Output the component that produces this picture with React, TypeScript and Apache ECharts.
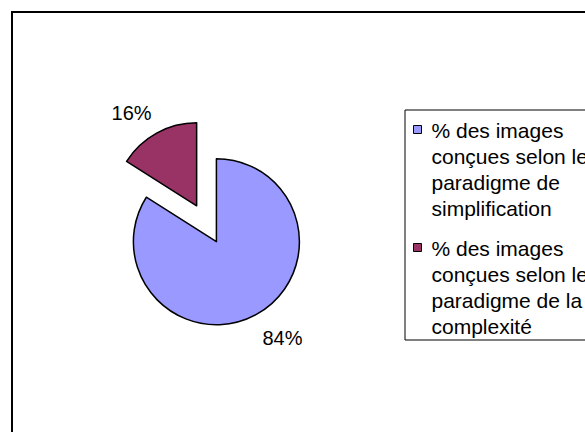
import React, { useEffect, useRef } from 'react';
import * as echarts from 'echarts';

const categories: string[] = [
  '% des images conçues selon le paradigme de simplification',
  '% des images conçues selon le paradigme de la complexité',
];
const values: number[] = [84, 16];
const colors: string[] = ['#9999FF', '#993366'];
const explodedSlices: boolean[] = [false, true];

export default function App() {
  const ref = useRef<HTMLDivElement>(null);

  useEffect(() => {
    if (!ref.current) return;
    const chart = echarts.init(ref.current, null, { renderer: 'svg' });
    const font = "'Liberation Sans', Arial, Helvetica, sans-serif";

    // per-slice label placement tweaks (styling only)
    const labelLineLen = [27, 23];
    const labelDist = [-7, -6];

    const data = categories.map((name, i) => ({
      name,
      value: values[i],
      selected: explodedSlices[i],
      itemStyle: { color: colors[i] },
      labelLine: { show: false, length: labelLineLen[i], length2: 0 },
      label: { distanceToLabelLine: labelDist[i] },
    }));

    const lineH = 26;
    const blockH = lineH * 4;
    // legend marker: small square at the top of a tall (text-high) box
    const markerIcon = `path://M0,0L0,0M0,8L8,8L8,16L0,16ZM0,${blockH}L0,${blockH}`;

    chart.setOption({
      animation: false,
      backgroundColor: '#ffffff',
      graphic: [
        {
          type: 'rect',
          silent: true,
          z: -10,
          shape: { x: 12, y: 12, width: 640, height: 480 },
          style: { fill: 'none', stroke: '#000000', lineWidth: 2 },
        },
      ],
      legend: {
        orient: 'vertical',
        left: 405,
        top: 110,
        padding: [7, 10, 0, 8],
        itemWidth: 8,
        itemHeight: blockH,
        itemGap: 13,
        icon: markerIcon,
        symbolKeepAspect: false,
        selectedMode: false,
        backgroundColor: '#ffffff',
        borderColor: '#000000',
        borderWidth: 1,
        borderRadius: 0,
        itemStyle: { borderColor: '#000000', borderWidth: 1 },
        textStyle: {
          fontFamily: font,
          fontSize: 21,
          lineHeight: lineH,
          color: '#000000',
          width: 190,
          overflow: 'break',
          padding: [0, 0, 0, 5],
        },
        data: categories,
      },
      series: [
        {
          type: 'pie',
          center: [216.4, 241.7],
          radius: 83,
          startAngle: 90,
          clockwise: true,
          selectedMode: 'single',
          selectedOffset: 41,
          avoidLabelOverlap: false,
          silent: true,
          emphasis: { disabled: true },
          itemStyle: { borderColor: '#000000', borderWidth: 1.5 },
          label: {
            show: true,
            position: 'outside',
            fontFamily: font,
            fontSize: 20,
            color: '#000000',
            formatter: (p: any) => `${Math.round(p.percent)}%`,
          },
          labelLine: { show: false },
          data,
        },
      ],
    });

    return () => {
      chart.dispose();
    };
  }, []);

  return (
    <div
      ref={ref}
      style={{
        position: 'absolute',
        left: 0,
        top: 0,
        width: 585,
        height: 432,
        overflow: 'hidden',
        background: '#ffffff',
      }}
    />
  );
}
